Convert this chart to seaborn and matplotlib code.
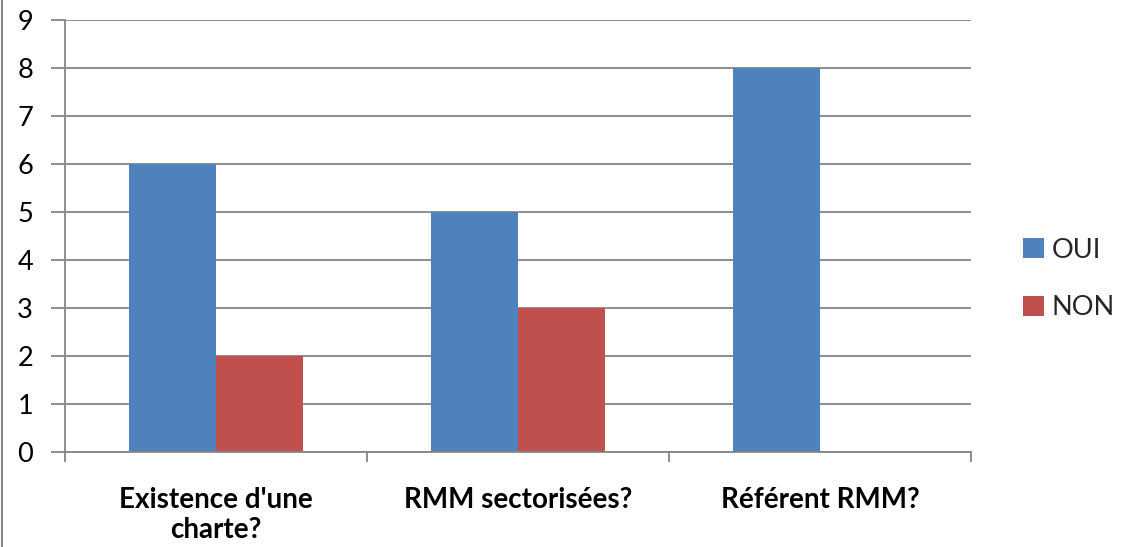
import matplotlib
matplotlib.use("Agg")
import matplotlib.pyplot as plt
import seaborn as sns
import pandas as pd
from matplotlib.patches import Patch
from matplotlib.lines import Line2D

categories = ["Existence d'une\ncharte?", "RMM sectorisées?", "Référent RMM?"]
series_names = ["OUI", "NON"]
oui_values = [6, 5, 8]
non_values = [2, 3, 0]
y_ticks = [0, 1, 2, 3, 4, 5, 6, 7, 8, 9]

colors = {"OUI": "#4F81BD", "NON": "#C0504D"}
grid_gray = "#868686"

df = pd.DataFrame({
    "categorie": categories * 2,
    "reponse": ["OUI"] * len(categories) + ["NON"] * len(categories),
    "valeur": oui_values + non_values,
})

sns.set_theme(style="white")
plt.rcParams["font.family"] = ["Lato", "DejaVu Sans"]

fig = plt.figure(figsize=(11.27, 5.47), dpi=100)
ax = fig.add_axes([65 / 1127, 1 - 452 / 547, (971 - 65) / 1127, (452 - 20) / 547])

sns.barplot(data=df, x="categorie", y="valeur", hue="reponse",
            hue_order=series_names, palette=colors, width=0.575,
            saturation=1, ax=ax, legend=False, linewidth=0)

ax.set_xlim(-0.5, len(categories) - 0.5)
ax.set_ylim(0, 9)
ax.set_yticks(y_ticks)
ax.set_yticklabels([str(t) for t in y_ticks], fontsize=19.5)
ax.yaxis.grid(True, color=grid_gray, linewidth=1.3)
ax.set_axisbelow(True)
ax.set_xlabel("")
ax.set_ylabel("")

for side in ["top", "right"]:
    ax.spines[side].set_visible(False)
for side in ["left", "bottom"]:
    ax.spines[side].set_color(grid_gray)
    ax.spines[side].set_linewidth(1.3)

ax.tick_params(axis="y", which="major", left=True, length=10, width=1.3,
               color=grid_gray, pad=13, labelcolor="black")

# category labels centred, tick marks on category boundaries
ax.set_xticks(range(len(categories)))
ax.set_xticklabels(categories, fontsize=20, fontweight="bold", color="black",
                   linespacing=1.2)
ax.tick_params(axis="x", which="major", bottom=False, pad=19)
ax.set_xticks([i - 0.5 for i in range(len(categories) + 1)], minor=True)
ax.tick_params(axis="x", which="minor", bottom=True, length=7, width=1.3,
               color=grid_gray)

handles = [Patch(facecolor=colors[n], edgecolor="none", label=n) for n in series_names]
fig.legend(handles=handles, loc="center left", bbox_to_anchor=(999 / 1127, 1 - 279 / 547),
           frameon=False, fontsize=19.5, handlelength=0.75, handleheight=0.75,
           handletextpad=0.3, labelspacing=1.2)

# outer chart frame
fig.add_artist(Line2D([2 / 1127, 2 / 1127], [0, 1], transform=fig.transFigure,
                      color=grid_gray, linewidth=1.5))

fig.savefig("out.png", dpi=100, facecolor="white")
